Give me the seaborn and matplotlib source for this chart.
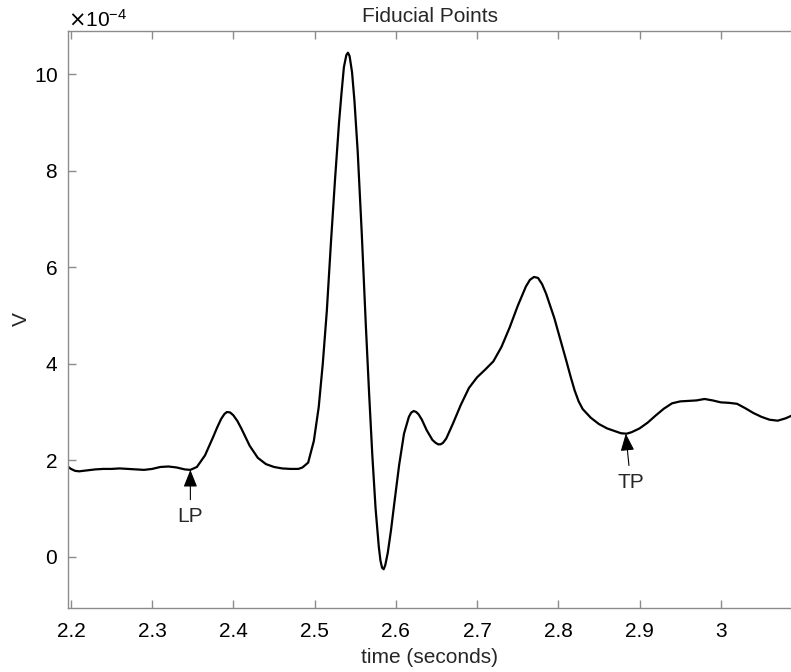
import matplotlib
matplotlib.use("Agg")
import matplotlib.pyplot as plt
import matplotlib.ticker as mticker
import seaborn as sns
import pandas as pd

# time axis (seconds) and ECG amplitude (in units of 1e-4 V)
time_s = [
    2.196, 2.200, 2.205, 2.210, 2.220, 2.230, 2.240, 2.250, 2.260, 2.270,
    2.280, 2.290, 2.300, 2.310, 2.320, 2.330, 2.340, 2.347, 2.355, 2.365,
    2.375, 2.380, 2.385, 2.389, 2.392, 2.396, 2.400, 2.405, 2.410, 2.420,
    2.430, 2.440, 2.450, 2.460, 2.470, 2.480, 2.485, 2.492, 2.499, 2.505,
    2.510, 2.515, 2.520, 2.525, 2.530, 2.533, 2.536, 2.539, 2.541, 2.543,
    2.546, 2.549, 2.553, 2.558, 2.563, 2.567, 2.571, 2.575, 2.579, 2.581,
    2.583, 2.585, 2.587, 2.590, 2.594, 2.598, 2.604, 2.610, 2.616, 2.619,
    2.622, 2.625, 2.628, 2.632, 2.638, 2.645, 2.649, 2.652, 2.655, 2.658,
    2.662, 2.670, 2.680, 2.690, 2.700, 2.710, 2.720, 2.730, 2.740, 2.750,
    2.760, 2.765, 2.770, 2.775, 2.780, 2.785, 2.790, 2.795, 2.800, 2.805,
    2.810, 2.815, 2.820, 2.825, 2.830, 2.840, 2.850, 2.860, 2.870, 2.877,
    2.884, 2.890, 2.900, 2.910, 2.920, 2.930, 2.940, 2.950, 2.960, 2.970,
    2.980, 2.990, 3.000, 3.010, 3.020, 3.030, 3.040, 3.050, 3.060, 3.070,
    3.080, 3.088,
]
volts_e4 = [
    1.87, 1.82, 1.78, 1.77, 1.79, 1.81, 1.82, 1.82, 1.83, 1.82,
    1.81, 1.80, 1.82, 1.86, 1.87, 1.85, 1.81, 1.80, 1.86, 2.10,
    2.48, 2.68, 2.86, 2.96, 3.00, 2.99, 2.93, 2.81, 2.65, 2.30,
    2.05, 1.92, 1.86, 1.83, 1.82, 1.82, 1.85, 1.95, 2.40, 3.10,
    4.00, 5.10, 6.50, 7.80, 9.00, 9.60, 10.15, 10.40, 10.45, 10.38,
    10.05, 9.45, 8.40, 6.70, 4.80, 3.40, 2.10, 1.00, 0.20, -0.08,
    -0.23, -0.26, -0.17, 0.08, 0.55, 1.10, 1.90, 2.55, 2.90, 2.99,
    3.02, 3.00, 2.95, 2.84, 2.62, 2.42, 2.36, 2.33, 2.33, 2.36,
    2.45, 2.75, 3.15, 3.50, 3.72, 3.88, 4.05, 4.35, 4.75, 5.20,
    5.60, 5.74, 5.80, 5.78, 5.65, 5.45, 5.20, 4.95, 4.65, 4.35,
    4.05, 3.74, 3.45, 3.22, 3.06, 2.88, 2.75, 2.66, 2.60, 2.56,
    2.55, 2.58, 2.66, 2.78, 2.93, 3.07, 3.18, 3.22, 3.23, 3.24,
    3.27, 3.24, 3.20, 3.19, 3.17, 3.08, 2.98, 2.90, 2.84, 2.82,
    2.87, 2.93,
]

# fiducial points: label, location, label position
fid_labels = ["LP", "TP"]
fid_time = [2.347, 2.883]
fid_volt_e4 = [1.80, 2.55]
fid_text_time = [2.347, 2.889]
fid_text_volt_e4 = [0.83, 1.54]


def main():
    df = pd.DataFrame({"t": time_s, "v": [v * 1e-4 for v in volts_e4]})

    sns.set_style("white")
    plt.rcParams["font.family"] = ["Liberation Sans", "DejaVu Sans"]

    fig = plt.figure(figsize=(7.91, 6.72), dpi=100)
    ax = fig.add_axes([0.0856, 0.0948, 0.915, 0.8598])

    sns.lineplot(data=df, x="t", y="v", sort=False, color="black", lw=1.6, ax=ax)

    for lab, t, v, tt, tv in zip(fid_labels, fid_time, fid_volt_e4, fid_text_time, fid_text_volt_e4):
        ax.annotate(lab, xy=(t, v * 1e-4), xytext=(tt, tv * 1e-4), ha="center", va="center",
                    fontsize=15,
                    arrowprops=dict(arrowstyle="-|>,head_length=0.7,head_width=0.28",
                                    mutation_scale=15, color="black", lw=0.8,
                                    shrinkA=3, shrinkB=0))

    ax.set_xlim(2.196, 3.087)
    ax.set_ylim(-1.07e-4, 10.91e-4)
    ax.xaxis.set_major_locator(mticker.MultipleLocator(0.1))
    ax.xaxis.set_major_formatter(mticker.FuncFormatter(lambda val, pos: f"{val:g}"))
    ax.yaxis.set_major_locator(mticker.MultipleLocator(2e-4))
    ax.ticklabel_format(axis="y", style="sci", scilimits=(-4, -4), useMathText=True)
    ax.yaxis.get_offset_text().set_fontsize(15)

    for side in ["left", "bottom", "top"]:
        ax.spines[side].set_color("#8c8c8c")
        ax.spines[side].set_linewidth(1.0)
    ax.spines["right"].set_visible(False)
    ax.tick_params(axis="both", direction="in", length=6, width=1.0, color="#8c8c8c",
                   labelsize=15, labelcolor="black")
    ax.tick_params(axis="x", top=True, bottom=True, pad=10)
    ax.tick_params(axis="y", left=True, right=False, pad=7)

    ax.set_title("Fiducial Points", fontsize=15, pad=6)
    ax.set_xlabel("time (seconds)", fontsize=15, labelpad=5)
    ax.set_ylabel("V", fontsize=15, labelpad=2)

    plt.savefig("out.png", dpi=100)
    plt.close()


if __name__ == "__main__":
    main()
